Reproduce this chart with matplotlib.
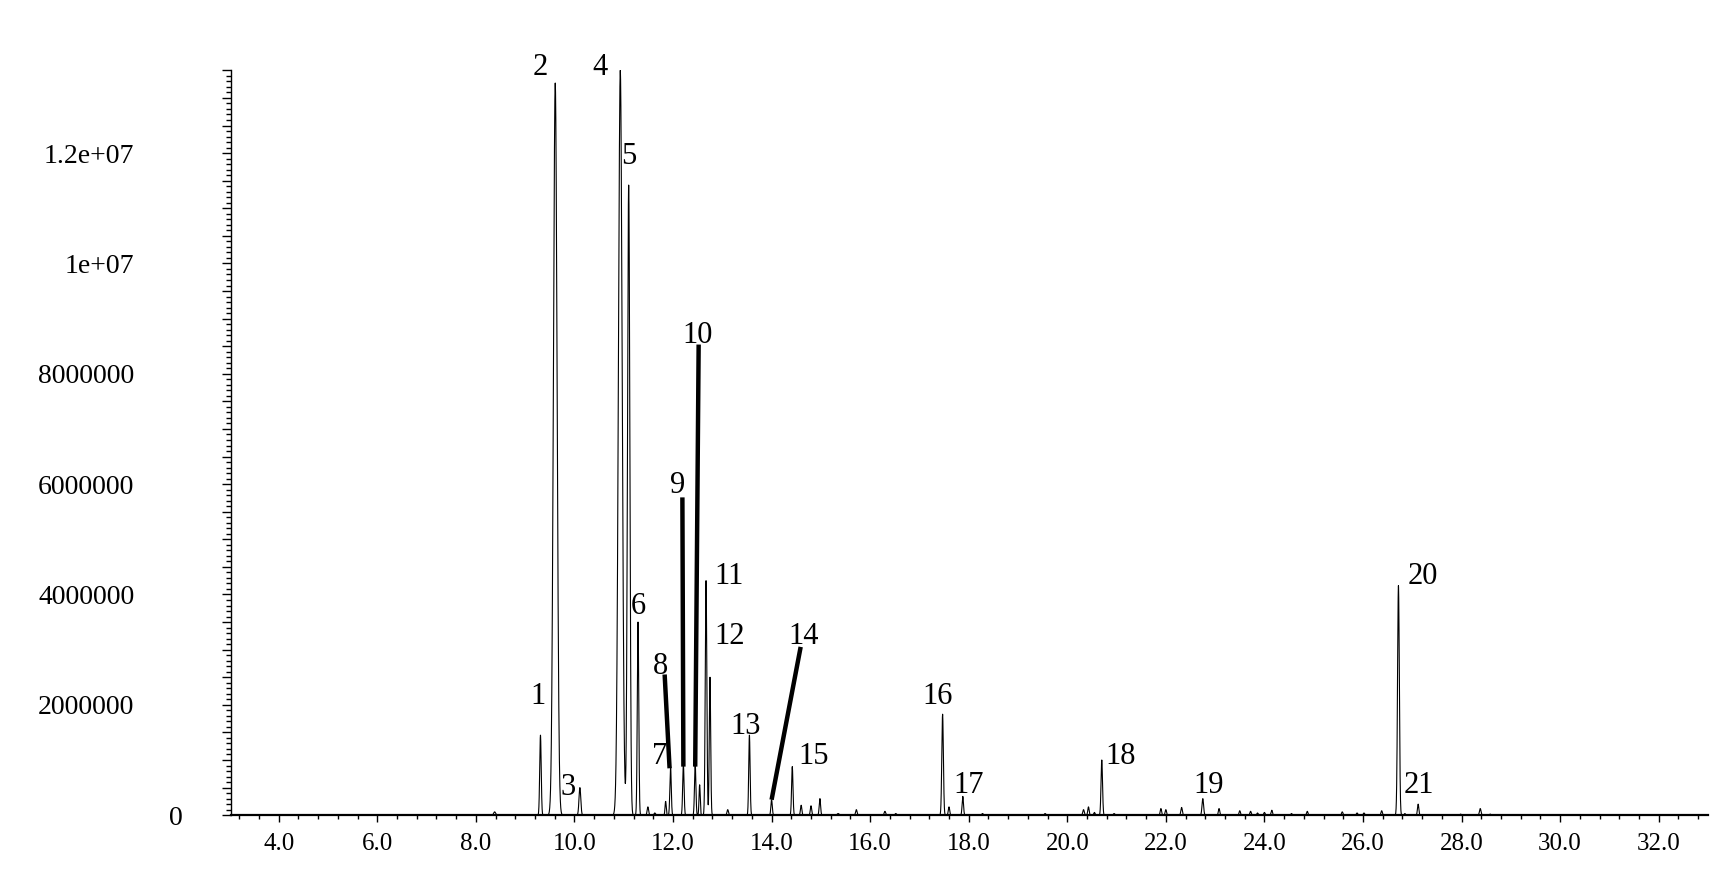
import numpy as np
import matplotlib
matplotlib.use("Agg")
import matplotlib.pyplot as plt
from matplotlib.ticker import MultipleLocator, FixedLocator, FixedFormatter
from matplotlib.transforms import ScaledTranslation

plt.rcParams['font.family'] = ['Liberation Serif', 'DejaVu Serif']

# peaks: retention time (min), height (x1e6), width (min)
rt = [8.38, 9.31, 9.61, 10.11, 10.93, 11.10, 11.29, 11.49, 11.63, 11.85,
      11.95, 12.21, 12.45, 12.54, 12.67, 12.75, 13.11, 13.55, 14.00, 14.42,
      14.60, 14.80, 14.98, 15.35, 15.72, 16.30, 16.52, 17.47, 17.60, 17.88,
      18.28, 19.55, 20.33, 20.43, 20.55, 20.70, 20.95, 21.90, 22.00, 22.32,
      22.75, 23.08, 23.50, 23.72, 23.86, 24.00, 24.15, 24.55, 24.87, 25.58,
      25.88, 26.02, 26.38, 26.72, 26.85, 27.12, 27.98, 28.38, 28.58]
height = [0.06, 1.45, 13.27, 0.50, 13.5, 11.42, 3.50, 0.15, 0.04, 0.25,
          0.88, 0.92, 0.92, 0.55, 4.25, 2.50, 0.10, 1.45, 0.28, 0.88,
          0.18, 0.17, 0.30, 0.03, 0.10, 0.07, 0.03, 1.83, 0.15, 0.34,
          0.03, 0.03, 0.10, 0.15, 0.05, 1.00, 0.03, 0.12, 0.10, 0.14,
          0.30, 0.12, 0.08, 0.07, 0.04, 0.05, 0.09, 0.03, 0.07, 0.06,
          0.04, 0.04, 0.08, 4.16, 0.03, 0.20, 0.02, 0.12, 0.02]
width = [0.02, 0.015, 0.037, 0.018, 0.038, 0.024, 0.015, 0.015, 0.015, 0.012,
         0.014, 0.014, 0.014, 0.012, 0.016, 0.014, 0.015, 0.014, 0.014, 0.014,
         0.014, 0.014, 0.014, 0.02, 0.015, 0.015, 0.015, 0.016, 0.014, 0.014,
         0.015, 0.015, 0.015, 0.014, 0.014, 0.015, 0.015, 0.014, 0.014, 0.015,
         0.016, 0.014, 0.014, 0.014, 0.014, 0.014, 0.014, 0.014, 0.014, 0.014,
         0.014, 0.014, 0.014, 0.018, 0.012, 0.014, 0.015, 0.016, 0.015]

# peak numbers and where they are written
label_text = [str(i) for i in range(1, 22)]
label_x = [9.27, 9.30, 9.88, 10.51, 11.11, 11.29, 11.72, 11.74, 12.09, 12.50,
           13.13, 13.15, 13.48, 14.66, 14.86, 17.37, 18.00, 21.09, 22.87, 27.22, 27.13]
label_y = [2.15, 13.55, 0.50, 13.55, 11.93, 3.78, 1.06, 2.69, 5.98, 8.69,
           4.32, 3.23, 1.61, 3.23, 1.06, 2.15, 0.54, 1.06, 0.54, 4.32, 0.54]

# thick pointer lines (x0, y0, x1, y1)
pointers = [(11.83, 2.55, 11.93, 0.85),
            (12.19, 5.76, 12.21, 0.88),
            (12.52, 8.53, 12.45, 0.88),
            (14.59, 3.05, 14.00, 0.28)]

ytick_vals = [0, 2e6, 4e6, 6e6, 8e6, 1e7, 1.2e7]
ytick_labels = ["0", "2000000", "4000000", "6000000", "8000000", "1e+07", "1.2e+07"]

t = np.arange(3.0, 33.05, 0.002)
signal = np.zeros_like(t)
for r, h, w in zip(rt, height, width):
    signal += h * 1e6 * np.exp(-0.5 * ((t - r) / w) ** 2)

fig = plt.figure(figsize=(17.25, 8.74), dpi=100)
ax = fig.add_axes([0.1339, 0.0673, 0.8562, 0.8522])
ax.plot(t, signal, color='black', lw=0.8)

for x0, y0, x1, y1 in pointers:
    ax.plot([x0, x1], [y0 * 1e6, y1 * 1e6], color='black', lw=3.2, solid_capstyle='butt')

for s, x, y in zip(label_text, label_x, label_y):
    ax.text(x, y * 1e6, s, fontsize=22, ha='center', va='center', clip_on=False)

ax.set_xlim(3.03, 33.0)
ax.set_ylim(0, 13.5e6)

ax.spines['top'].set_visible(False)
ax.spines['right'].set_visible(False)
ax.spines['left'].set_linewidth(1.0)
ax.spines['bottom'].set_linewidth(1.6)

ax.xaxis.set_major_locator(MultipleLocator(2.0))
ax.xaxis.set_minor_locator(MultipleLocator(0.4))
ax.xaxis.set_major_formatter(matplotlib.ticker.FormatStrFormatter('%.1f'))
ax.tick_params(axis='x', which='major', length=5, width=1.0, pad=8, labelsize=18, direction='out')
ax.tick_params(axis='x', which='minor', length=3, width=1.0, direction='out')

ymaj = np.arange(0, 13.51e6, 5e5)
ylab = []
for v in ymaj:
    s = ""
    for tv, tl in zip(ytick_vals, ytick_labels):
        if abs(v - tv) < 1:
            s = tl
    ylab.append(s)
ax.yaxis.set_major_locator(FixedLocator(ymaj))
ax.yaxis.set_major_formatter(FixedFormatter(ylab))
ax.yaxis.set_minor_locator(MultipleLocator(1e5))
ax.tick_params(axis='y', which='major', length=6.5, width=1.0, pad=63, labelsize=20, direction='out')
ax.tick_params(axis='y', which='minor', length=3.6, width=1.0, direction='out')

fig.canvas.draw()
zero_label = ax.yaxis.get_majorticklabels()[0]
zero_label.set_transform(zero_label.get_transform() + ScaledTranslation(0.48, 0, fig.dpi_scale_trans))

fig.savefig("out.png", dpi=100)
